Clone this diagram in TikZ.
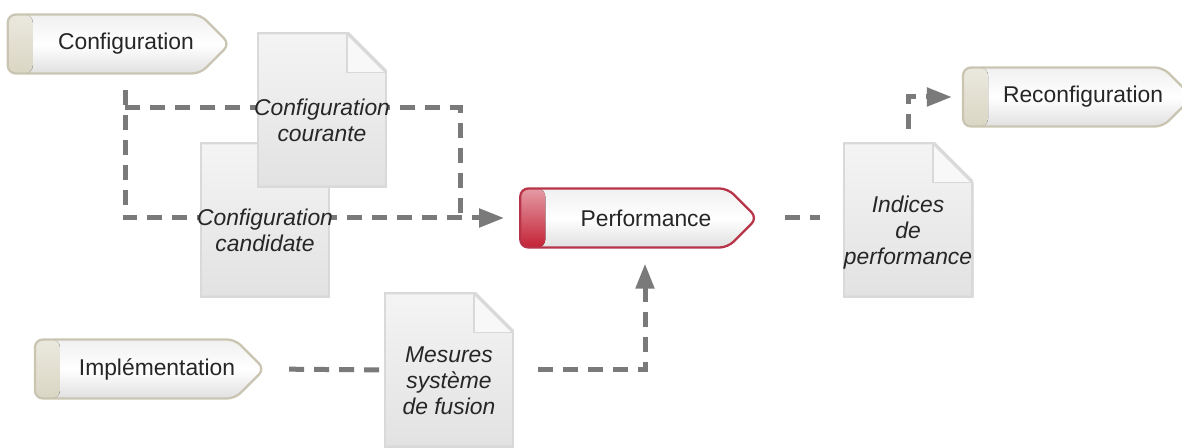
\documentclass[tikz,border=0pt]{standalone}
\usepackage{fontspec}
\setmainfont{Liberation Sans}
\usetikzlibrary{positioning, arrows.meta, shapes.symbols}
\definecolor{flow-gray}{HTML}{7A7A7A}
\definecolor{pill-edge}{HTML}{C9C5B2}
\definecolor{pill-cap}{HTML}{DAD6C4}
\definecolor{perf-edge}{HTML}{B83448}
\definecolor{perf-cap}{HTML}{C42236}
\definecolor{doc-top}{HTML}{F4F4F4}
\definecolor{doc-bot}{HTML}{E2E2E2}
\definecolor{doc-edge}{HTML}{D9D9D9}
\definecolor{doc-fold}{HTML}{F8F8F8}
\definecolor{txt-dark}{HTML}{262626}

\begin{document}
\begin{tikzpicture}[
    x=0.02cm, y=-0.02cm,
    pill/.style={signal, signal to=east, rounded corners=0.16cm,
        minimum height=1.18cm, inner sep=0pt, draw=pill-edge, line width=1.3pt,
        top color=black!6, bottom color=black!12, middle color=white,
        font=\fontsize{13}{15}\selectfont, text=txt-dark,
        path picture={
            \fill[top color=pill-cap!55, bottom color=pill-cap]
                (path picture bounding box.south west) rectangle
                ([xshift=0.5cm]path picture bounding box.north west);
        }},
    perfpill/.style={pill, draw=perf-edge,
        path picture={
            \fill[top color=perf-cap!45, bottom color=perf-cap]
                (path picture bounding box.south west) rectangle
                ([xshift=0.5cm]path picture bounding box.north west);
        }},
    doc/.style={rectangle, minimum width=2.6cm, minimum height=3.1cm, inner sep=0pt,
        path picture={
            \coordinate (sw) at (path picture bounding box.south west);
            \coordinate (nw) at (path picture bounding box.north west);
            \coordinate (se) at (path picture bounding box.south east);
            \coordinate (ne) at (path picture bounding box.north east);
            \fill[top color=doc-top, bottom color=doc-bot]
                (sw) -- (nw) -- ([xshift=-0.8cm]ne) -- ([yshift=-0.8cm]ne) -- (se) -- cycle;
            \fill[doc-fold] ([xshift=-0.8cm]ne) -- ([xshift=-0.8cm,yshift=-0.8cm]ne)
                -- ([yshift=-0.8cm]ne) -- cycle;
            \draw[doc-edge, line width=2pt]
                (sw) -- (nw) -- ([xshift=-0.8cm]ne) -- ([yshift=-0.8cm]ne) -- (se) -- cycle;
            \draw[doc-edge, line width=0.6pt] ([xshift=-0.8cm]ne)
                -- ([xshift=-0.8cm,yshift=-0.8cm]ne) -- ([yshift=-0.8cm]ne);
        }},
    doctext/.style={font=\fontsize{13}{14.8}\selectfont\itshape, align=center, text=txt-dark},
    flow/.style={draw=flow-gray, line width=0.1cm, dash pattern=on 0.3cm off 0.2cm},
    tip/.style={-{Triangle[length=0.5cm, width=0.36cm]}},
]
    \useasboundingbox (0,0) rectangle (1182,448);

    % Pills
    \node[pill, minimum width=4.44cm] (conf) at (104,44) {\hspace{0.88cm}Configuration};
    \node[perfpill, minimum width=4.74cm] (perf) at (624,218) {\hspace{0.88cm}Performance};
    \node[pill, minimum width=4.48cm] (impl) at (135,369) {\hspace{0.88cm}Implémentation};
    \node[pill, minimum width=4.5cm] (reconf) at (1063,97) {\hspace{0.8cm}Reconfiguration};

    % Connectors (behind the documents)
    \coordinate (c0) at (125,90);
    \coordinate (loop0) at (125,108);
    \coordinate (loop1) at (460,108);
    \draw[flow, tip, shorten >=0.3cm] (c0) |- (perf.west);
    \draw[flow] (loop0) -- (loop1) -- (loop1 |- perf.west);
    \draw[flow, shorten <=0.52cm, shorten >=0.46cm] (perf.east) -- (perf.east -| 843,0);

    % Documents
    \node[doc] (cand) at (265,220) {};
    \node[doctext] (cand-t) at (265,230) {Configuration\\candidate};
    \node[doc] (cour) at (322,110) {};
    \node[doctext] (cour-t) at (322,120) {Configuration\\courante};
    \node[doc] (mes) at (449,370) {};
    \node[doctext] (mes-t) at (449,381) {Mesures\\système\\de fusion};
    \node[doc] (ind) at (908,220) {};
    \node[doctext] (ind-t) at (908,233) {Indices\\de\\performance};

    % Remaining connectors
    \draw[flow, shorten <=0.46cm] (impl.east) -- (mes.west);
    \coordinate (m1) at (645,370);
    \draw[flow, tip, shorten <=0.48cm, shorten >=0.3cm] (mes.east) -- (m1) -- (m1 |- perf.south);
    \draw[flow, tip, shorten <=0.26cm, shorten >=0.2cm] (ind.north) |- (reconf.west);
\end{tikzpicture}
\end{document}
